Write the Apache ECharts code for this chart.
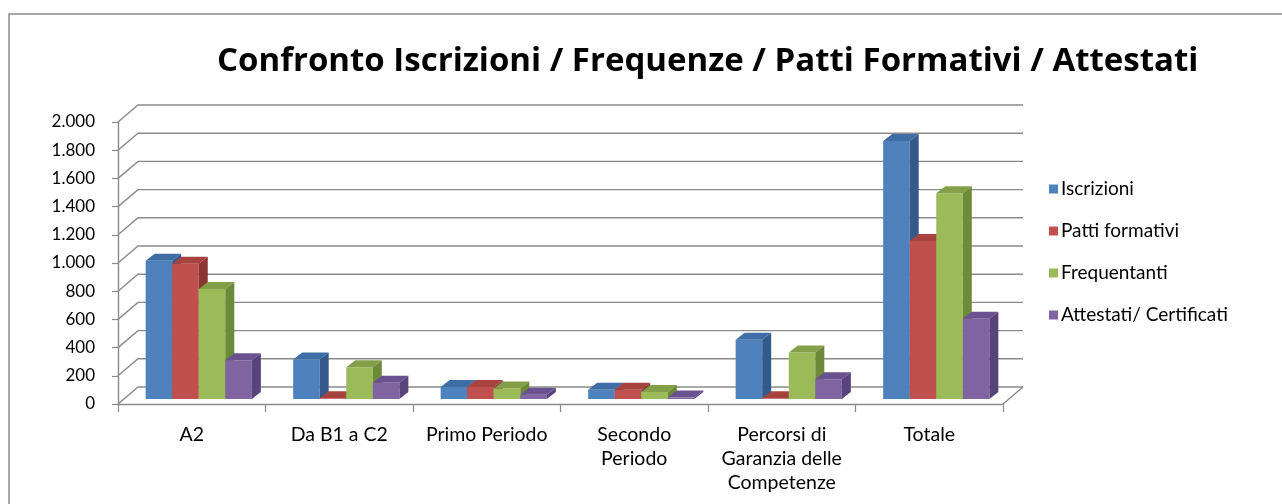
<!DOCTYPE html>
<html>
<head>
<meta charset="utf-8">
<style>html,body{margin:0;padding:0;background:#fff;}#c{width:1282px;height:504px;}</style>
<script src="https://cdn.jsdelivr.net/npm/echarts@6/dist/echarts.min.js"></script>
</head>
<body>
<div id="c"></div>
<script>
const categories = ['A2', 'Da B1 a C2', 'Primo Periodo', 'Secondo\nPeriodo', 'Percorsi di\nGaranzia delle\nCompetenze', 'Totale'];
const seriesNames = ['Iscrizioni', 'Patti formativi', 'Frequentanti', 'Attestati/ Certificati'];
const iscrizioni = [980, 280, 85, 65, 420, 1830];
const pattiFormativi = [960, 5, 85, 65, 5, 1120];
const frequentanti = [780, 225, 75, 50, 330, 1460];
const attestati = [275, 115, 30, 10, 140, 570];
const yTicks = [0, 200, 400, 600, 800, 1000, 1200, 1400, 1600, 1800, 2000];

const frontColors = ['#4F81BD', '#C0504D', '#9BBB59', '#8064A2'];
const topColors = ['#3F6DA6', '#A8423F', '#83A049', '#6A5290'];
const sideColors = ['#335A8A', '#8C3532', '#6D8A38', '#58437A'];
const allValues = [iscrizioni, pattiFormativi, frequentanti, attestati];

const WALL_DX = 20, WALL_DY = -17;
const BAR_OFF_X = 7, BAR_OFF_Y = -5;
const BAR_DX = 9, BAR_DY = -7;
const BAR_FRAC = 0.18;
const FONT = 'Lato, "Open Sans", sans-serif';

function fmt(v) { return String(v).replace(/\B(?=(\d{3})+(?!\d))/g, '.'); }

const chart = echarts.init(document.getElementById('c'));

const wallSeries = {
  type: 'custom',
  name: '_walls',
  silent: true,
  z: 1,
  clip: false,
  data: yTicks.map(v => [0, v]),
  renderItem: function (params, api) {
    const cs = params.coordSys;
    const y = api.coord([0, api.value(1)])[1];
    const children = [{
      type: 'polyline',
      shape: { points: [[cs.x, y], [cs.x + WALL_DX, y + WALL_DY], [cs.x + cs.width + WALL_DX, y + WALL_DY]] },
      style: { stroke: '#8a8a8a', lineWidth: 1.4, fill: null }
    }];
    if (api.value(1) === 0) {
      children.push({
        type: 'line',
        shape: { x1: cs.x + cs.width, y1: y, x2: cs.x + cs.width + WALL_DX, y2: y + WALL_DY },
        style: { stroke: '#8a8a8a', lineWidth: 1.4 }
      });
    }
    return { type: 'group', children: children };
  }
};

function barSeries(k) {
  return {
    type: 'custom',
    name: seriesNames[k],
    z: 2 + k,
    clip: false,
    itemStyle: { color: frontColors[k] },
    data: allValues[k].map((v, i) => [i, v]),
    renderItem: function (params, api) {
      const i = api.value(0), v = api.value(1);
      const top = api.coord([i, v]);
      const base = api.coord([i, 0]);
      const band = api.size([1, 0])[0];
      const w = band * BAR_FRAC;
      const x0 = top[0] + (k - 2) * w + BAR_OFF_X;
      const x1 = x0 + w;
      const yT = top[1] + BAR_OFF_Y;
      const yB = base[1] + BAR_OFF_Y;
      return {
        type: 'group',
        children: [
          { type: 'rect', shape: { x: x0, y: yT, width: w, height: yB - yT }, style: { fill: frontColors[k] } },
          { type: 'polygon', shape: { points: [[x0, yT], [x1, yT], [x1 + BAR_DX, yT + BAR_DY], [x0 + BAR_DX, yT + BAR_DY]] }, style: { fill: topColors[k] } },
          { type: 'polygon', shape: { points: [[x1, yT], [x1, yB], [x1 + BAR_DX, yB + BAR_DY], [x1 + BAR_DX, yT + BAR_DY]] }, style: { fill: sideColors[k] } }
        ]
      };
    }
  };
}

chart.setOption({
  animation: false,
  backgroundColor: '#ffffff',
  title: {
    text: 'Confronto Iscrizioni / Frequenze / Patti Formativi / Attestati',
    left: 212, top: 40,
    textStyle: { fontFamily: '"Open Sans", Lato, sans-serif', fontWeight: 'bold', fontSize: 33, color: '#000' }
  },
  legend: {
    orient: 'vertical',
    left: 1044, top: 174,
    itemWidth: 9, itemHeight: 9, itemGap: 22,
    icon: 'rect',
    data: seriesNames,
    textStyle: { fontFamily: FONT, fontSize: 19, color: '#000', lineHeight: 20, padding: [0, 0, 0, -2] }
  },
  graphic: [{
    type: 'rect',
    shape: { x: 9, y: 14, width: 1300, height: 600 },
    style: { fill: null, stroke: '#8c8c8c', lineWidth: 1.5 },
    silent: true, z: -10
  }],
  grid: { left: 118, top: 122, width: 885, height: 282 },
  xAxis: {
    type: 'category',
    data: categories,
    boundaryGap: true,
    axisLine: { show: true, lineStyle: { color: '#8a8a8a', width: 1.4 } },
    axisTick: { show: true, length: 8, lineStyle: { color: '#8a8a8a', width: 1.2 } },
    axisLabel: { interval: 0, margin: 19, fontFamily: FONT, fontSize: 19.5, color: '#000', lineHeight: 24 },
    splitLine: { show: false }
  },
  yAxis: {
    type: 'value',
    min: 0, max: 2000, interval: 200,
    axisLine: { show: true, lineStyle: { color: '#8a8a8a', width: 1.4 } },
    axisTick: { show: true, length: 6, lineStyle: { color: '#8a8a8a', width: 1.2 } },
    axisLabel: { margin: 23, fontFamily: FONT, fontSize: 17, color: '#000', formatter: fmt },
    splitLine: { show: false }
  },
  series: [wallSeries, barSeries(0), barSeries(1), barSeries(2), barSeries(3)]
});
</script>
</body>
</html>
